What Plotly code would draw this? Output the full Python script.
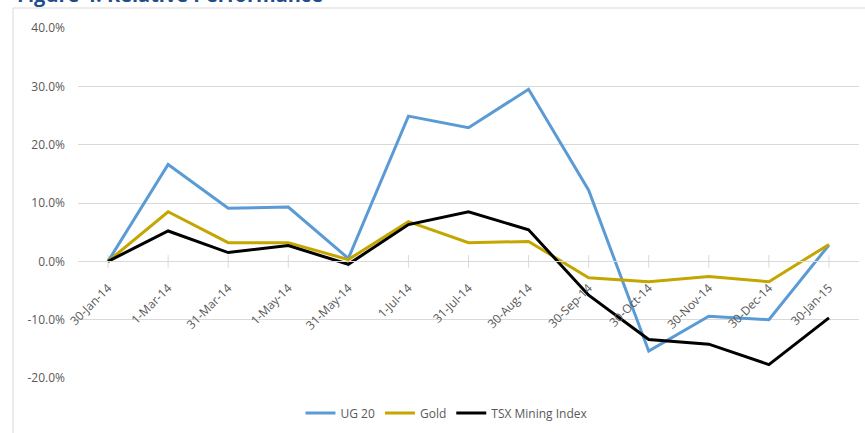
import plotly.graph_objects as go

dates = ["30-Jan-14", "1-Mar-14", "31-Mar-14", "1-May-14", "31-May-14", "1-Jul-14",
         "31-Jul-14", "30-Aug-14", "30-Sep-14", "30-Oct-14", "30-Nov-14", "30-Dec-14", "30-Jan-15"]
ug20 = [0.0, 16.6, 9.1, 9.3, 0.5, 24.9, 22.9, 29.5, 12.2, -15.4, -9.4, -10.0, 2.8]
gold = [0.0, 8.5, 3.2, 3.2, 0.3, 6.8, 3.2, 3.4, -2.8, -3.5, -2.6, -3.5, 2.9]
tsx = [0.0, 5.2, 1.5, 2.7, -0.5, 6.3, 8.5, 5.4, -5.8, -13.4, -14.2, -17.7, -9.7]
y_ticks = [-20, -10, 0, 10, 20, 30, 40]
y_tick_text = [f"{v:.1f}%" for v in y_ticks]

W, H = 865, 433
L, R, T, B = 78, 859, 28, 378

fig = go.Figure()
# small tick marks crossing the zero axis at each category
fig.add_trace(go.Scatter(x=dates, y=[0] * len(dates), mode="markers", showlegend=False,
                         hoverinfo="skip",
                         marker=dict(symbol="line-ns", size=9, line=dict(color="#D9D9D9", width=1))))
series = [("UG 20", ug20, "#5B9BD5"), ("Gold", gold, "#C4A600"), ("TSX Mining Index", tsx, "#000000")]
for name, vals, col in series:
    fig.add_trace(go.Scatter(x=dates, y=vals, name=name, mode="lines",
                             line=dict(color=col, width=3)))

pw = R - L
ph = B - T
fig.add_shape(type="rect", xref="paper", yref="paper",
              x0=(13 - L) / pw, x1=(W + 20 - L) / pw,
              y0=-(H + 20 - B) / ph, y1=1 + (T - 8) / ph,
              line=dict(color="#D9D9D9", width=1), fillcolor="rgba(0,0,0,0)", layer="below")

fig.add_annotation(text="<b>Figure 4: Relative Performance</b>", xref="paper", yref="paper",
                   x=(15 - L) / pw, y=1 + (T - 10) / ph, xanchor="left", yanchor="bottom",
                   showarrow=False, font=dict(family="Open Sans", size=20, color="#1F4E8C"))

fig.update_layout(
    width=W, height=H,
    margin=dict(l=L, r=W - R, t=T, b=H - B),
    paper_bgcolor="white", plot_bgcolor="white",
    font=dict(family="Open Sans", size=12, color="#595959"),
    showlegend=True,
    legend=dict(orientation="h", x=(447 - L) / pw, xanchor="center",
                y=-(413 - B) / ph, yanchor="middle", font=dict(size=12, color="#595959"),
                itemwidth=30),
    xaxis=dict(type="category", range=[-0.5, len(dates) - 0.5], anchor="free",
               position=20 / 60, showgrid=False, showline=True, linecolor="#D9D9D9",
               ticks="outside", ticklen=14, tickcolor="rgba(0,0,0,0)", tickangle=-45,
               tickfont=dict(size=12, color="#595959"), zeroline=False),
    yaxis=dict(range=[-20, 40], tickvals=y_ticks, ticktext=y_tick_text,
               showgrid=True, gridcolor="#D9D9D9", gridwidth=1, zeroline=False,
               showline=False, ticks="", ticklabelstandoff=12,
               tickfont=dict(size=12, color="#595959")),
)

fig.write_html("out.html")
